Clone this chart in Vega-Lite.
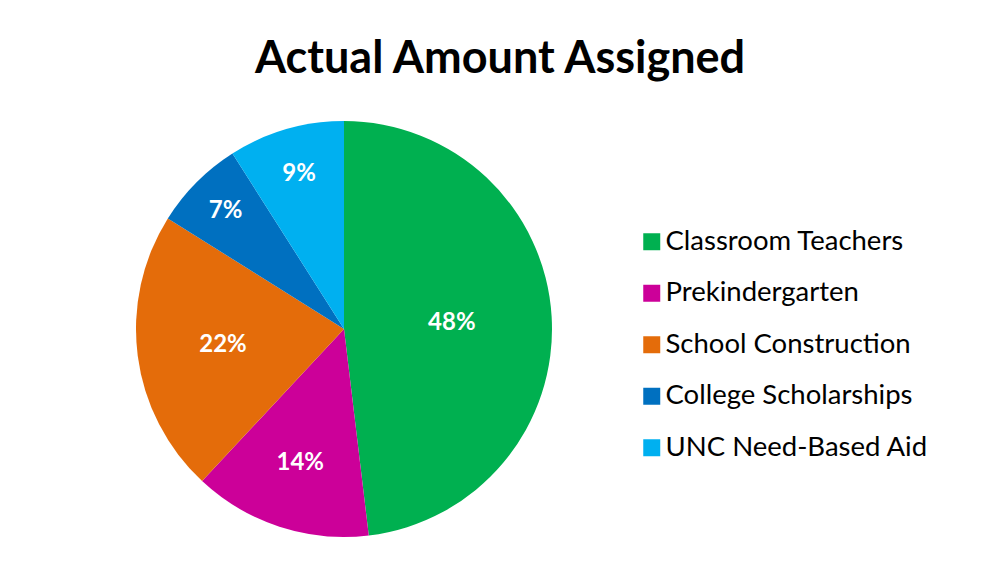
{
  "$schema": "https://vega.github.io/schema/vega-lite/v6.json",
  "width": 416,
  "height": 416,
  "autosize": {"type": "none"},
  "padding": {"left": 136, "top": 121, "right": 430, "bottom": 39},
  "background": "white",
  "title": {
    "text": "Actual Amount Assigned",
    "font": "Lato",
    "fontSize": 45,
    "fontWeight": "bold",
    "color": "#000000",
    "baseline": "alphabetic",
    "offset": 3,
    "anchor": "middle",
    "dx": 156
  },
  "data": {
    "values": [
      {"idx": 1, "category": "Classroom Teachers", "share": 0.481},
      {"idx": 2, "category": "Prekindergarten", "share": 0.1385},
      {"idx": 3, "category": "School Construction", "share": 0.2197},
      {"idx": 4, "category": "College Scholarships", "share": 0.0707},
      {"idx": 5, "category": "UNC Need-Based Aid", "share": 0.0901}
    ]
  },
  "encoding": {
    "theta": {"field": "share", "type": "quantitative", "stack": true},
    "order": {"field": "idx", "type": "quantitative"},
    "color": {
      "field": "category",
      "type": "nominal",
      "scale": {
        "domain": ["Classroom Teachers", "Prekindergarten", "School Construction", "College Scholarships", "UNC Need-Based Aid"],
        "range": ["#00B050", "#CC0099", "#E46C0A", "#0070C0", "#00B0F0"]
      },
      "legend": {
        "title": null,
        "orient": "none",
        "legendX": 502,
        "legendY": 107,
        "symbolType": "square",
        "symbolSize": 289,
        "symbolStrokeWidth": 0,
        "labelFont": "Lato",
        "labelFontSize": 27.5,
        "labelColor": "#000000",
        "labelOffset": 0,
        "rowPadding": 22.5,
        "labelLimit": 400
      }
    }
  },
  "layer": [
    {"mark": {"type": "arc", "outerRadius": 208, "stroke": null}},
    {
      "mark": {"type": "text", "radius": 108, "font": "Lato", "fontSize": 24, "fontWeight": "bold", "align": "center", "baseline": "middle"},
      "encoding": {"text": {"condition": {"test": "datum.idx === 1", "field": "share", "type": "quantitative", "format": ".0%"}, "value": ""}, "color": {"value": "white"}}
    },
    {
      "mark": {"type": "text", "radius": 141, "font": "Lato", "fontSize": 24, "fontWeight": "bold", "align": "center", "baseline": "middle"},
      "encoding": {"text": {"condition": {"test": "datum.idx === 2", "field": "share", "type": "quantitative", "format": ".0%"}, "value": ""}, "color": {"value": "white"}}
    },
    {
      "mark": {"type": "text", "radius": 122, "font": "Lato", "fontSize": 24, "fontWeight": "bold", "align": "center", "baseline": "middle"},
      "encoding": {"text": {"condition": {"test": "datum.idx === 3", "field": "share", "type": "quantitative", "format": ".0%"}, "value": ""}, "color": {"value": "white"}}
    },
    {
      "mark": {"type": "text", "radius": 167, "font": "Lato", "fontSize": 24, "fontWeight": "bold", "align": "center", "baseline": "middle"},
      "encoding": {"text": {"condition": {"test": "datum.idx === 4", "field": "share", "type": "quantitative", "format": ".0%"}, "value": ""}, "color": {"value": "white"}}
    },
    {
      "mark": {"type": "text", "radius": 161, "font": "Lato", "fontSize": 24, "fontWeight": "bold", "align": "center", "baseline": "middle"},
      "encoding": {"text": {"condition": {"test": "datum.idx === 5", "field": "share", "type": "quantitative", "format": ".0%"}, "value": ""}, "color": {"value": "white"}}
    }
  ],
  "config": {"view": {"stroke": null}}
}
